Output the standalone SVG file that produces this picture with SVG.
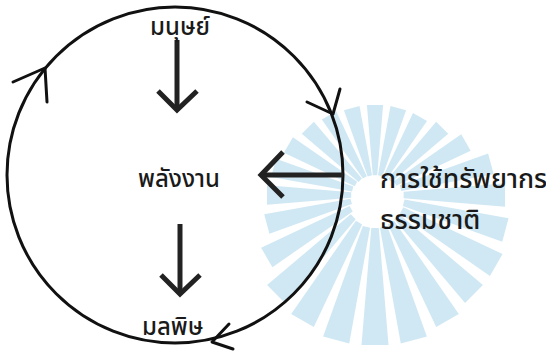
<svg xmlns="http://www.w3.org/2000/svg" xmlns:xlink="http://www.w3.org/1999/xlink" width="546" height="352" viewBox="0 0 546 352">
<style>
.lbl{font-family:"Noto Sans Thai","Tahoma","Loma","Garuda","Noto Sans","DejaVu Sans",sans-serif;font-size:24px;font-weight:500;fill:#1a1a1a;}
.big{font-size:26.5px;}
.thin{fill:none;stroke:#111;stroke-width:3;stroke-linecap:round;stroke-linejoin:round;}
.thick{fill:none;stroke:#222;stroke-width:5;stroke-linecap:butt;stroke-linejoin:miter;}
.ray{fill:#d0e8f4;}
</style>
<defs>
<polygon id="ray" points="0.22,-0.025 1,-0.09 1,0.09 0.22,0.025"/>
</defs>
<rect width="546" height="352" fill="#fff"/>
<g id="watermark" class="ray">
<use xlink:href="#ray" transform="translate(375,195) rotate(0) scale(130)"/>
<use xlink:href="#ray" transform="translate(375,195) rotate(15) scale(135)"/>
<use xlink:href="#ray" transform="translate(375,195) rotate(30) scale(140)"/>
<use xlink:href="#ray" transform="translate(375,195) rotate(45) scale(140)"/>
<use xlink:href="#ray" transform="translate(375,195) rotate(60) scale(145)"/>
<use xlink:href="#ray" transform="translate(375,195) rotate(75) scale(150)"/>
<use xlink:href="#ray" transform="translate(375,195) rotate(90) scale(150)"/>
<use xlink:href="#ray" transform="translate(375,195) rotate(105) scale(150)"/>
<use xlink:href="#ray" transform="translate(375,195) rotate(120) scale(145)"/>
<use xlink:href="#ray" transform="translate(375,195) rotate(135) scale(140)"/>
<use xlink:href="#ray" transform="translate(375,195) rotate(150) scale(125)"/>
<use xlink:href="#ray" transform="translate(375,195) rotate(165) scale(112)"/>
<use xlink:href="#ray" transform="translate(375,195) rotate(180) scale(108)"/>
<use xlink:href="#ray" transform="translate(375,195) rotate(195) scale(105)"/>
<use xlink:href="#ray" transform="translate(375,195) rotate(210) scale(100)"/>
<use xlink:href="#ray" transform="translate(375,195) rotate(225) scale(95)"/>
<use xlink:href="#ray" transform="translate(375,195) rotate(240) scale(92)"/>
<use xlink:href="#ray" transform="translate(375,195) rotate(255) scale(90)"/>
<use xlink:href="#ray" transform="translate(375,195) rotate(270) scale(90)"/>
<use xlink:href="#ray" transform="translate(375,195) rotate(285) scale(90)"/>
<use xlink:href="#ray" transform="translate(375,195) rotate(300) scale(90)"/>
<use xlink:href="#ray" transform="translate(375,195) rotate(315) scale(95)"/>
<use xlink:href="#ray" transform="translate(375,195) rotate(330) scale(105)"/>
<use xlink:href="#ray" transform="translate(375,195) rotate(345) scale(120)"/>
</g>
<g id="connectors">
<circle class="thin" cx="175" cy="175" r="168"/>
<polyline class="thin" points="13,82 45,68 47,102"/>
<polyline class="thin" points="307,102 333,114 340,89"/>
<polyline class="thin" points="229,324 212,342 233,349"/>
<line class="thick" x1="177" y1="40" x2="177" y2="108"/>
<polyline class="thick" points="158,91 177,110 197,91"/>
<line class="thick" x1="180" y1="224" x2="180" y2="294"/>
<polyline class="thick" points="161,275 180,294 200,275"/>
<line class="thick" x1="343" y1="175" x2="262" y2="175"/>
<polyline class="thick" points="283,152 261,175 283,197"/>
</g>
<g id="node-human"><text class="lbl" x="150" y="35">มนุษย์</text></g>
<g id="node-energy"><text class="lbl" x="138" y="187">พลังงาน</text></g>
<g id="node-pollution"><text class="lbl" x="142" y="335">มลพิษ</text></g>
<g id="node-resources"><text class="lbl big" x="380" y="188">การใช้ทรัพยากร</text><text class="lbl big" x="380" y="229">ธรรมชาติ</text></g>
</svg>
